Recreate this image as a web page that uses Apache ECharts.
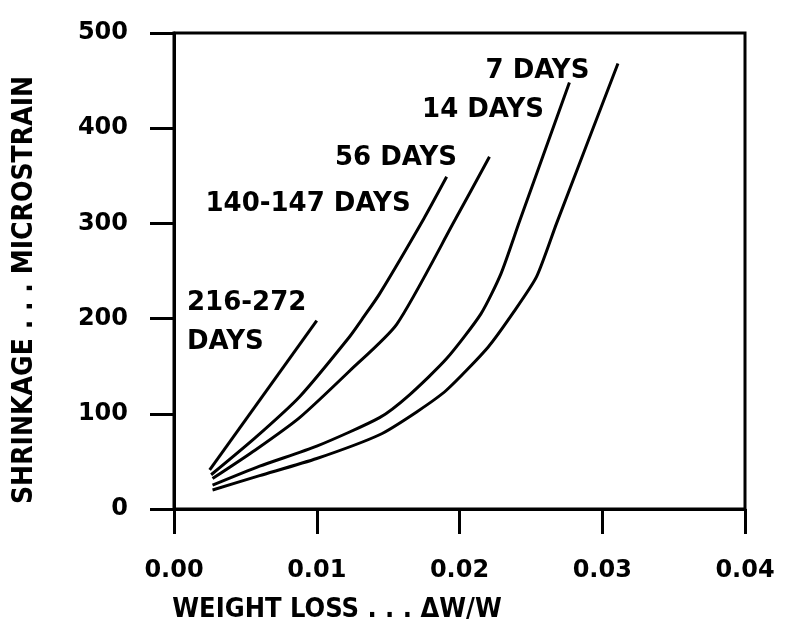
<!DOCTYPE html>
<html>
<head>
<meta charset="utf-8">
<script src="https://cdn.jsdelivr.net/npm/echarts@6/dist/echarts.min.js"></script>
<style>
  html, body { margin: 0; padding: 0; background: #fff; }
  #chart { width: 787px; height: 636px; }
</style>
</head>
<body>
<div id="chart"></div>
<script>
// curves: [weight loss dW/W, shrinkage microstrain]
const days7 = [[0.0027, 20], [0.0060, 35], [0.0100, 53], [0.0144, 78], [0.0170, 102], [0.0191, 125], [0.0220, 170], [0.0238, 207], [0.0254, 244], [0.0268, 300], [0.0311, 468]];
const days14 = [[0.0027, 25], [0.0060, 45], [0.0100, 66], [0.0144, 96], [0.0165, 120], [0.0191, 158], [0.0215, 205], [0.0229, 247], [0.0242, 302], [0.0277, 448]];
const days56 = [[0.0027, 32], [0.0057, 62], [0.0088, 96], [0.0123, 145], [0.0156, 194], [0.0197, 304], [0.0221, 370]];
const days140 = [[0.0026, 36], [0.0057, 75], [0.0088, 118], [0.0123, 181], [0.0133, 202], [0.0144, 226], [0.0175, 305], [0.0191, 349]];
const days216 = [[0.0025, 41], [0.0100, 198]];

const seriesNames = ['7 DAYS', '14 DAYS', '56 DAYS', '140-147 DAYS', '216-272 DAYS'];
// where each curve's label sits, in data units
const labelText = ['7 DAYS', '14 DAYS', '56 DAYS', '140-147 DAYS', '216-272\nDAYS'];
const labelAt = [[0.02546, 460], [0.02165, 419], [0.01555, 368], [0.00939, 320], [0.00091, 196]];

const xTicks = [0, 0.01, 0.02, 0.03, 0.04];
const yTicks = [0, 100, 200, 300, 400, 500];

const FONT = 'DejaVu Sans';
const COND = '"DejaVu Sans Condensed", "DejaVu Sans"';

let chart = echarts.init(document.getElementById('chart'));

let curves = [days7, days14, days56, days140, days216];
let series = curves.map((d, i) => ({
    name: seriesNames[i],
    type: 'line',
    data: d,
    showSymbol: false,
    smooth: 0.22,
    lineStyle: { color: '#000', width: 3 },
    silent: true
}));

series.push({
    name: 'labels',
    type: 'scatter',
    symbolSize: 0,
    silent: true,
    itemStyle: { opacity: 1 },
    data: labelAt.map((p, i) => ({
        value: p,
        label: {
            show: true,
            formatter: labelText[i],
            position: 'inside',
            align: i === 4 ? 'left' : 'center',
            verticalAlign: 'middle',
            color: '#000',
            opacity: 1,
            fontFamily: FONT,
            fontWeight: 'bold',
            fontSize: 26,
            lineHeight: 39
        }
    }))
});

chart.setOption({
    animation: false,
    backgroundColor: '#fff',
    grid: {
        left: 174, right: 42, top: 33, bottom: 127,
        show: true, borderColor: '#000', borderWidth: 3
    },
    xAxis: {
        type: 'value',
        min: xTicks[0],
        max: xTicks[xTicks.length - 1],
        interval: 0.01,
        axisLine: { onZero: false, lineStyle: { color: '#000', width: 3 } },
        axisTick: { inside: false, length: 25, lineStyle: { color: '#000', width: 3 } },
        splitLine: { show: false },
        axisLabel: {
            margin: 50, color: '#000', fontFamily: FONT, fontWeight: 'bold', fontSize: 24,
            formatter: v => v.toFixed(2)
        }
    },
    yAxis: {
        type: 'value',
        min: yTicks[0],
        max: yTicks[yTicks.length - 1],
        interval: 100,
        axisLine: { show: true, lineStyle: { color: '#000', width: 3 } },
        axisTick: { show: true, inside: false, length: 24, lineStyle: { color: '#000', width: 3 } },
        splitLine: { show: false },
        axisLabel: { margin: 46, color: '#000', fontFamily: FONT, fontWeight: 'bold', fontSize: 24 }
    },
    graphic: [
        {
            type: 'text', x: 337, y: 610,
            style: {
                text: 'WEIGHT LOSS . . . ΔW/W', fill: '#000',
                fontFamily: COND, fontWeight: 'bold', fontSize: 27,
                align: 'center', verticalAlign: 'middle'
            }
        },
        {
            type: 'text', x: 25, y: 290, rotation: Math.PI / 2,
            style: {
                text: 'SHRINKAGE . . . MICROSTRAIN', fill: '#000',
                fontFamily: COND, fontWeight: 'bold', fontSize: 28,
                align: 'center', verticalAlign: 'middle'
            }
        }
    ],
    series: series
});
</script>
</body>
</html>
